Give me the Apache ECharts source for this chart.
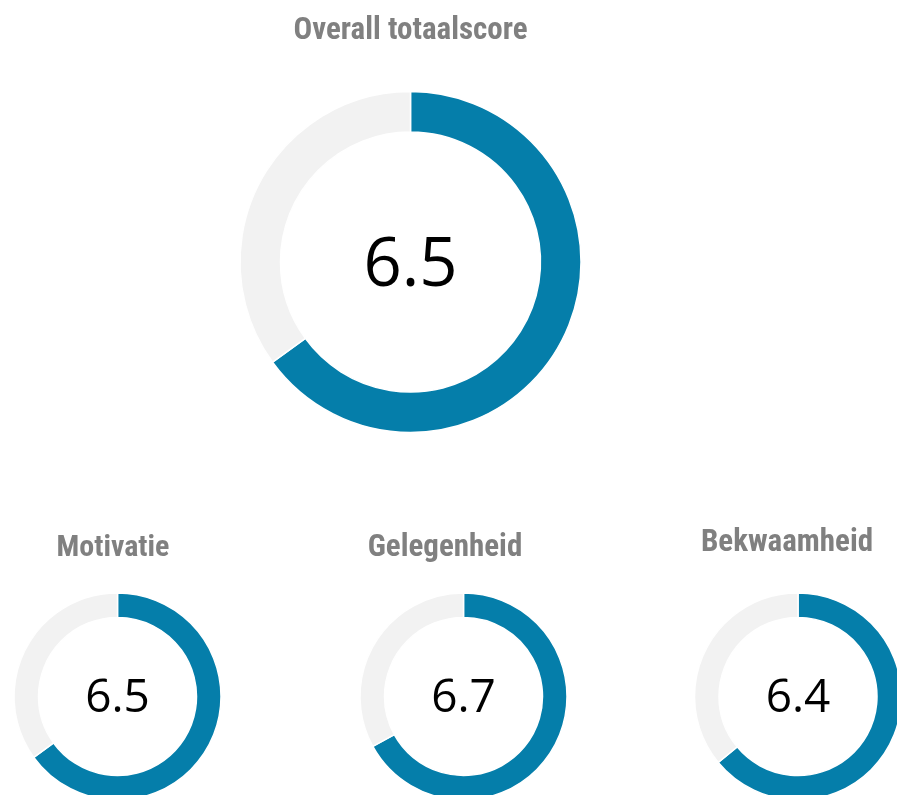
<!DOCTYPE html>
<html>
<head>
<meta charset="utf-8">
<script src="https://cdn.jsdelivr.net/npm/echarts@6/dist/echarts.min.js"></script>
<style>
html,body{margin:0;padding:0;background:#fff;}
#chart{width:897px;height:795px;}
</style>
</head>
<body>
<div id="chart"></div>
<script>
const categories = ['Overall totaalscore', 'Motivatie', 'Gelegenheid', 'Bekwaamheid'];
const scores = [6.5, 6.5, 6.7, 6.4];
const maxScore = 10;

// layout (pixels)
const centers = [[410.5, 262], [117.5, 696.5], [463.5, 696.5], [798, 696.5]];
const radii = [[130, 170.5], [79, 103.5], [79, 103.5], [79, 103.5]];
const titlePos = [[410.5, 31], [113, 548], [445, 548], [787, 543]];
const titleSize = [31, 30, 31, 31];
const numberSize = [67, 46, 46, 46];
const numberShift = [5, 2, 2, 2];

const blue = '#057EAA';
const grey = '#F2F2F2';
const titleFont = "'Liberation Sans Narrow', 'Roboto Condensed', 'Arial Narrow', sans-serif";
const numFont = "'Open Sans', 'Noto Sans', sans-serif";

const chart = echarts.init(document.getElementById('chart'), null, {renderer: 'canvas'});

const series = categories.map((name, i) => ({
  type: 'pie',
  name: name,
  center: centers[i],
  radius: radii[i],
  startAngle: 90,
  clockwise: true,
  silent: true,
  avoidLabelOverlap: false,
  label: {show: false},
  labelLine: {show: false},
  emphasis: {disabled: true},
  itemStyle: {borderColor: '#fff', borderWidth: 1.5},
  data: [
    {
      value: scores[i],
      itemStyle: {color: blue},
      label: {
        show: true,
        position: 'center',
        formatter: () => scores[i].toFixed(1),
        color: '#000',
        fontSize: numberSize[i],
        fontFamily: numFont,
        fontWeight: 'normal',
        offset: [0, numberShift[i]]
      }
    },
    {value: maxScore - scores[i], itemStyle: {color: grey}}
  ]
}));

const graphics = categories.map((name, i) => ({
  type: 'text',
  x: titlePos[i][0],
  y: titlePos[i][1],
  style: {
    text: name,
    fill: '#808080',
    font: 'bold ' + titleSize[i] + 'px ' + titleFont,
    textAlign: 'center',
    textVerticalAlign: 'middle'
  }
}));

chart.setOption({
  animation: false,
  backgroundColor: '#fff',
  graphic: graphics,
  series: series
});
</script>
</body>
</html>
